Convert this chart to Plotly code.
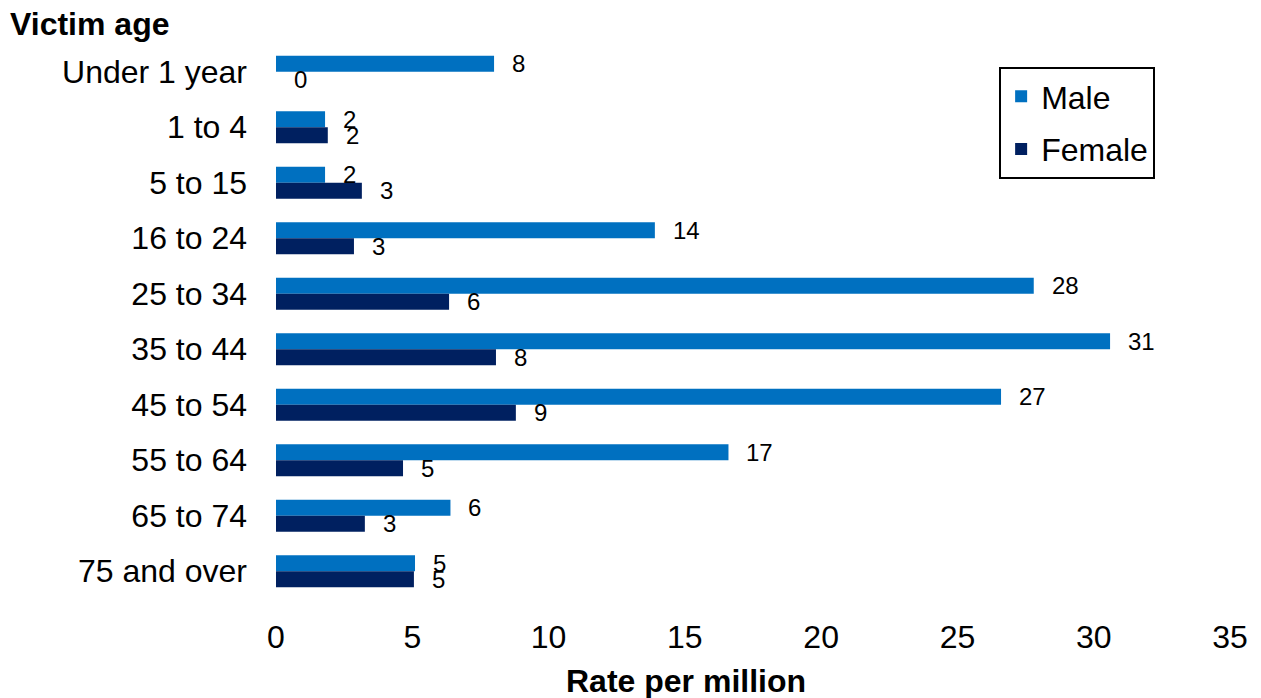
import plotly.graph_objects as go

categories = ["Under 1 year", "1 to 4", "5 to 15", "16 to 24", "25 to 34",
              "35 to 44", "45 to 54", "55 to 64", "65 to 74", "75 and over"]
male = [8.0, 1.8, 1.8, 13.9, 27.8, 30.6, 26.6, 16.6, 6.4, 5.1]
female = [0.0, 1.9, 3.15, 2.86, 6.35, 8.07, 8.8, 4.66, 3.26, 5.06]
x_ticks = [0, 5, 10, 15, 20, 25, 30, 35]

MALE_C = "#0070C0"
FEMALE_C = "#002060"
FONT = "Liberation Sans, Arial, sans-serif"

W, H = 1253, 690  # page body adds an 8px margin

fig = go.Figure()
fig.add_trace(go.Bar(y=categories, x=male, orientation="h", name="Male",
                     legendgroup="m", marker=dict(color=MALE_C, line=dict(width=0))))
fig.add_trace(go.Bar(y=categories, x=female, orientation="h", name="Female",
                     legendgroup="f", marker=dict(color=FEMALE_C, line=dict(width=0))))

# data labels
for vals, ys in ((male, 8), (female, -8)):
    for c, v in zip(categories, vals):
        fig.add_annotation(x=v, y=c, text=f"{round(v):d}", showarrow=False,
                           xanchor="left", yanchor="middle", xshift=16, yshift=ys,
                           font=dict(family=FONT, size=24, color="#000000"))

fig.add_annotation(text="<b>Rate per million</b>", xref="paper", yref="paper",
                   x=0.43, y=-0.148, showarrow=False, xanchor="center", yanchor="middle",
                   font=dict(family=FONT, size=32, color="#000000"))

fig.update_layout(
    width=W, height=H,
    margin=dict(l=268, r=31, t=36, b=99),
    paper_bgcolor="white", plot_bgcolor="white",
    barmode="group", bargap=0.42, bargroupgap=0,
    font=dict(family=FONT, size=32, color="#000000"),
    title=dict(text="<b>Victim age</b>", x=2 / W, xanchor="left", xref="container",
               y=1 - 16 / H, yanchor="middle", yref="container",
               font=dict(family=FONT, size=32, color="#000000")),
    xaxis=dict(range=[0, 35], tickvals=x_ticks, showgrid=False, zeroline=False,
               showline=False, ticks="", ticklabelstandoff=16,
               tickfont=dict(family=FONT, size=32)),
    yaxis=dict(autorange="reversed", showgrid=False, zeroline=False, showline=False,
               ticks="", ticklabelstandoff=28, tickfont=dict(family=FONT, size=32)),
    legend=dict(x=0.758, y=0.9586, xanchor="left", yanchor="top",
                bordercolor="#000000", borderwidth=2, bgcolor="white",
                font=dict(family=FONT, size=32), traceorder="grouped",
                tracegroupgap=8),
    showlegend=True,
)

fig.write_html("out.html")
